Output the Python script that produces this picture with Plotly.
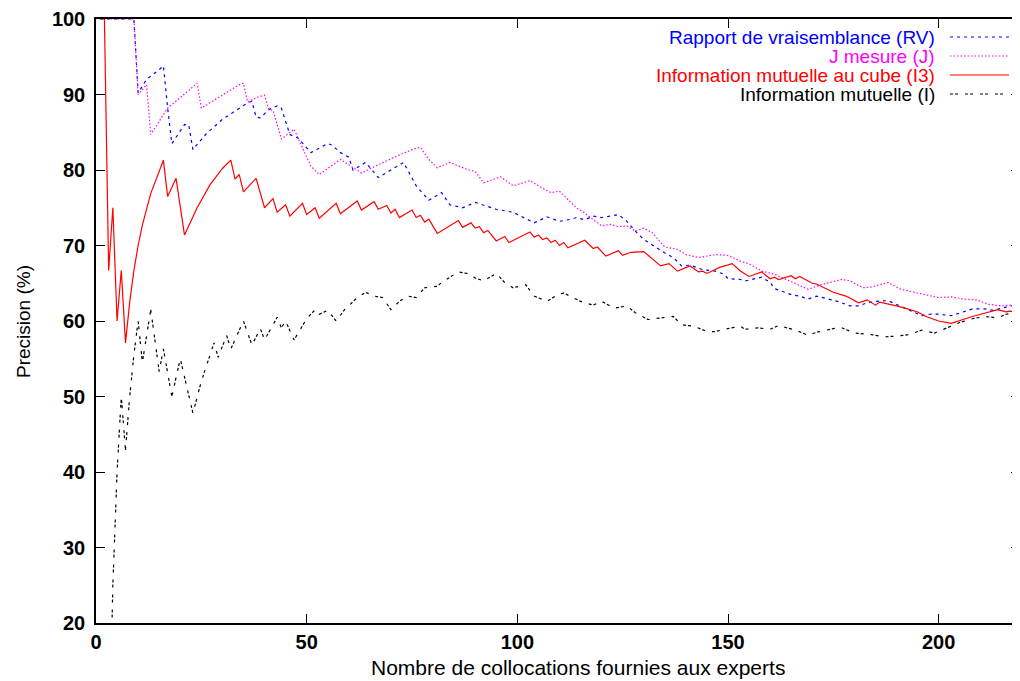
import plotly.graph_objects as go

# ---- data ----
rv_x = [1, 9, 10, 12, 15, 16, 17, 18, 21, 22, 23, 26, 30, 33, 36, 37, 38, 39, 41, 43, 44, 46, 48, 51, 55, 56, 58, 60, 61, 64, 67, 73, 76, 79, 82, 84, 87, 90, 95, 99, 101, 104, 107, 110, 113, 114, 116, 118, 120, 124, 126, 128, 130, 133, 135, 137, 139, 141, 144, 147, 149, 150, 153, 154, 156, 158, 160, 161, 163, 165, 167, 169, 171, 174, 176, 179, 181, 183, 185, 188, 190, 192, 194, 196, 198, 200, 203, 205, 208, 211, 213, 215, 217, 220]
rv_y = [100, 100, 90.2, 92, 93.3, 93.8, 88.2, 83.5, 86, 86, 82.7, 84.7, 86.7, 87.8, 88.9, 89.1, 87, 86.9, 88, 88.5, 88.2, 84.7, 84.2, 82.3, 83.5, 83.3, 82.3, 81.7, 80, 81, 79, 81, 77.9, 76, 77, 75.4, 75, 75.7, 74.8, 74.4, 73.8, 73, 73.8, 73.2, 73.5, 73.7, 73.4, 73.9, 73.7, 74.1, 73.2, 71.9, 70.8, 69.7, 69, 68.4, 67.3, 67.4, 66.8, 66.6, 66.2, 65.6, 65.5, 65.3, 65.5, 65.8, 65.1, 64.3, 63.9, 63.5, 63.3, 62.9, 63.3, 62.9, 62.6, 62, 62, 62.4, 62.6, 62.7, 62.2, 61.7, 61.1, 60.7, 60.9, 60.9, 60.7, 61.1, 61.6, 61.6, 61.4, 61.7, 62, 62]

j_x = [1, 9, 10, 12, 13, 17, 20, 24, 25, 29, 34, 35, 36, 38, 40, 41, 42, 44, 46, 47, 51, 53, 58, 60, 63, 67, 72, 76, 77, 79, 81, 84, 88, 90, 92, 96, 99, 103, 105, 108, 110, 112, 114, 116, 120, 122, 124, 126, 128, 130, 132, 135, 138, 140, 143, 145, 147, 150, 153, 155, 158, 161, 163, 165, 169, 172, 177, 179, 182, 184, 188, 191, 195, 197, 200, 203, 206, 209, 212, 215, 217, 220]
j_y = [100, 100, 90, 91.3, 84.7, 88.2, 89.6, 91.5, 88.2, 89.6, 91.3, 91.5, 89, 89.6, 89.9, 88, 87.9, 84.1, 84.9, 85.4, 80.5, 79.4, 81.4, 80.7, 79.6, 80.7, 82, 82.9, 83, 81.4, 80.3, 81, 80.1, 79.8, 78.3, 79.1, 77.9, 78.6, 77.9, 77, 77.2, 76.1, 75, 74.3, 72.6, 72.8, 72.5, 72.6, 71.9, 72.3, 71.7, 69.8, 69.5, 68.8, 68.4, 68.6, 68.8, 68.7, 67.9, 67.6, 66.6, 66.2, 65.7, 65.3, 64.2, 64.8, 65.5, 65.3, 64.4, 64.5, 65.1, 64.2, 63.7, 63.5, 63.1, 63.2, 62.9, 62.8, 62.2, 62, 62.1, 61.6]

i3_x = [1, 2, 3, 4, 5, 6, 7, 8, 9, 10, 11, 13, 16, 17, 19, 21, 24, 27, 30, 32, 33, 34, 35, 38, 40, 42, 43, 45, 46, 49, 50, 52, 53, 57, 58, 62, 63, 66, 67, 69, 70, 71, 72, 75, 76, 77, 78, 79, 81, 84, 86, 87, 89, 90, 91, 92, 93, 95, 97, 98, 103, 104, 105, 106, 107, 108, 109, 110, 111, 112, 116, 118, 119, 121, 124, 125, 127, 130, 134, 136, 138, 141, 143, 144, 145, 148, 151, 153, 155, 158, 160, 161, 162, 165, 166, 167, 170, 171, 174, 175, 178, 181, 183, 185, 186, 188, 190, 192, 195, 197, 200, 203, 205, 208, 210, 213, 214, 216, 217, 220]
i3_y = [100, 100, 66.7, 75, 60, 66.7, 57.1, 62.5, 66.7, 70, 72.7, 76.9, 81.3, 76.5, 78.9, 71.4, 75, 78, 80.2, 81.3, 78.8, 79.4, 77.1, 78.9, 75, 76.2, 74.4, 75.4, 73.9, 75.6, 74.1, 75, 73.6, 75.6, 74.2, 75.9, 74.7, 75.8, 74.8, 75.3, 74.3, 74.8, 73.7, 74.7, 73.7, 74, 73.1, 73.5, 71.6, 72.6, 73.3, 72.4, 73, 72.3, 72.5, 71.7, 72, 70.6, 71.2, 70.4, 71.8, 71.1, 71.4, 70.8, 71, 70.4, 70.7, 70, 70.4, 69.7, 70.7, 69.6, 69.8, 68.6, 69.3, 68.7, 69.1, 69.2, 67.3, 67.6, 66.6, 67.3, 66.5, 66.6, 66.3, 67.1, 67.6, 66.6, 65.9, 66.5, 65.6, 65.8, 65.5, 66, 65.6, 65.9, 65, 64.9, 64, 63.8, 63.3, 62.4, 62.8, 62.1, 62.5, 62.3, 62, 61.7, 61.2, 60.6, 60, 59.7, 60.1, 60.6, 60.9, 61.3, 61.5, 61.2, 61.3, 61.2]

i_x = [1, 3, 4, 5, 6, 7, 8, 9, 10, 11, 13, 14, 15, 16, 18, 20, 22, 23, 25, 27, 28, 29, 31, 32, 35, 37, 39, 40, 43, 44, 45, 47, 50, 52, 53, 55, 57, 59, 62, 64, 66, 68, 70, 72, 74, 76, 78, 81, 82, 86, 88, 90, 92, 95, 97, 99, 102, 104, 107, 110, 111, 115, 118, 120, 123, 126, 128, 131, 134, 137, 139, 142, 145, 147, 150, 153, 154, 157, 160, 162, 166, 169, 171, 175, 177, 180, 184, 187, 190, 193, 196, 199, 202, 205, 208, 211, 214, 216, 220]
i_y = [0, 0, 25, 40, 50, 42.9, 50, 55.6, 60, 54.5, 61.5, 57.1, 53.3, 56.3, 50, 55, 50, 47.8, 52, 55.6, 57.1, 55.2, 58.1, 56.3, 60, 56.8, 59, 57.5, 60.5, 59.1, 60, 57.5, 60.3, 61.5, 60.9, 61.4, 60, 61.5, 63.1, 63.8, 63.3, 63.1, 61.5, 62.6, 63.3, 63.1, 64.4, 64.6, 65.1, 66.5, 66.3, 65.7, 65.3, 66.3, 65.1, 64.4, 64.8, 63.3, 62.6, 63.6, 63.7, 62.6, 62.1, 62.6, 61.7, 62, 61.1, 60.2, 60.4, 60.6, 59.5, 59.3, 58.6, 58.6, 59, 59.3, 58.9, 59.1, 58.9, 59.4, 58.8, 58.1, 58.5, 59, 59.1, 58.4, 58.2, 57.9, 58, 58.2, 58.8, 58.4, 59.1, 59.8, 60.3, 60.6, 60.4, 60.9, 61.3]

series_names = ["Rapport de vraisemblance (RV)", "J mesure (J)",
                "Information mutuelle au cube (I3)", "Information mutuelle (I)"]
series_colors = ["#0000ff", "#ff00ff", "#ff0000", "#000000"]
series_dash = ["3px,4px", "1.5px,2px", "solid", "3px,2px,3px,7px"]

y_ticks = [20, 30, 40, 50, 60, 70, 80, 90, 100]
x_ticks = [0, 50, 100, 150, 200]

x_title = "Nombre de collocations fournies aux experts"
y_title = "Precision (%)"

xs = [rv_x, j_x, i3_x, i_x]
ys = [rv_y, j_y, i3_y, i_y]

FONT = "Liberation Sans, Arial, Helvetica, sans-serif"
OFF = 8  # default page body margin
W, H = 1020 - OFF, 681 - OFF
ML, MR, MT, MB = 96 - OFF, 0, 19 - OFF, 681 - 623
PH = H - MT - MB
PW = W - ML - MR


def px_x(p):  # page pixel -> paper x
    return (p - OFF - ML) / PW


def px_y(p):  # page pixel -> paper y
    return 1 - (p - OFF - MT) / PH


fig = go.Figure()
for name, x, y, c, d in zip(series_names, xs, ys, series_colors, series_dash):
    fig.add_trace(go.Scatter(x=x, y=y, mode="lines", name=name,
                             line=dict(color=c, width=1.2, dash=d),
                             showlegend=False, cliponaxis=True))

# legend drawn as text + sample lines (right aligned text, samples on right)
leg_px = [37, 56, 75, 94]
for name, c, d, py in zip(series_names, series_colors, series_dash, leg_px):
    yy = px_y(py)
    fig.add_annotation(xref="paper", yref="paper", x=px_x(937), y=yy,
                       text=name, showarrow=False, xanchor="right", yanchor="middle",
                       font=dict(family=FONT, size=19, color=c))
    fig.add_shape(type="line", xref="paper", yref="paper",
                  x0=px_x(950), x1=px_x(1009), y0=yy, y1=yy,
                  line=dict(color=c, width=1.2, dash=d))

# axis titles as annotations
fig.add_annotation(xref="paper", yref="paper", x=px_x(578), y=px_y(667),
                   text=x_title, showarrow=False, xanchor="center", yanchor="middle",
                   font=dict(family=FONT, size=21, color="black"))
fig.add_annotation(xref="paper", yref="paper", x=px_x(23), y=px_y(322),
                   text=y_title, showarrow=False, textangle=-90,
                   xanchor="center", yanchor="middle",
                   font=dict(family=FONT, size=19, color="black"))

fig.update_layout(
    width=W, height=H,
    margin=dict(l=ML, r=MR, t=MT, b=MB, autoexpand=False),
    paper_bgcolor="white", plot_bgcolor="white",
    font=dict(family=FONT, color="black"),
)
fig.update_xaxes(range=[0, 219.3], tickvals=x_ticks, ticks="inside", ticklen=9,
                 tickwidth=1, tickcolor="black", showline=True, linecolor="black",
                 linewidth=1.5, mirror="ticks", showgrid=False, zeroline=False,
                 automargin=False,
                 tickfont=dict(family=FONT, size=20, weight="bold"))
fig.update_yaxes(range=[20, 100], tickvals=y_ticks, ticks="inside", ticklen=9,
                 tickwidth=1, tickcolor="black", showline=True, linecolor="black",
                 linewidth=1.5, mirror="ticks", showgrid=False, zeroline=False,
                 automargin=False, ticklabelstandoff=5,
                 tickfont=dict(family=FONT, size=20, weight="bold"))

fig.write_html("out.html")
